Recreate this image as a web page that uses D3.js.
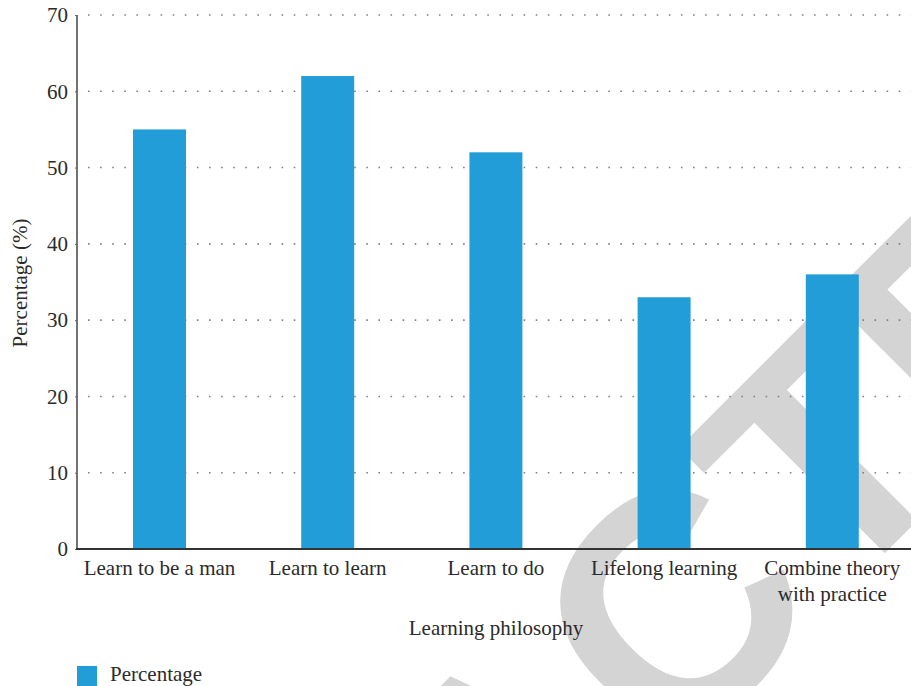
<!DOCTYPE html>
<html><head><meta charset="utf-8">
<script src="https://cdn.jsdelivr.net/npm/d3@7"></script>
<style>html,body{margin:0;padding:0;background:#fff;}svg{display:block;}</style>
</head><body>
<svg id="chart" width="911" height="686"></svg>
<script>
const categories = ["Learn to be a man", "Learn to learn", "Learn to do", "Lifelong learning", "Combine theory with practice"];
const categoryLines = [["Learn to be a man"], ["Learn to learn"], ["Learn to do"], ["Lifelong learning"], ["Combine theory", "with practice"]];
const values = [55, 62, 52, 33, 36];
const yTicks = [0, 10, 20, 30, 40, 50, 60, 70];
const seriesName = "Percentage";
const xTitle = "Learning philosophy";
const yTitle = "Percentage (%)";
const watermark = "RETRACTED";

const svg = d3.select("#chart");
const font = "'Liberation Serif', 'DejaVu Serif', serif";
const fs = 21;
const textColor = "#2b2b2b";
const barColor = "#229dd7";

// watermark (beneath everything)
const wm = svg.append("text")
  .attr("font-family", "'Liberation Sans', Arial, sans-serif")
  .attr("font-weight", "bold")
  .attr("font-size", 320)
  .attr("fill", "#d4d4d4")
  .text(watermark.slice(0, 6));
const pre = wm.node().getComputedTextLength();
wm.text(watermark)
  .attr("x", -pre)
  .attr("y", 0)
  .attr("transform", "translate(832,606) rotate(-45)");

const y = d3.scaleLinear().domain([0, 70]).range([549, 15]);
const x = d3.scaleBand().domain(categories).range([75.4, 916.4]).paddingInner(0.685).paddingOuter(0.3425);

// gridlines
svg.append("g").selectAll("line").data(yTicks.filter(d => d > 0)).join("line")
  .attr("x1", 84).attr("x2", 911)
  .attr("y1", d => y(d)).attr("y2", d => y(d))
  .attr("stroke", "#808080").attr("stroke-width", 1.6)
  .attr("stroke-dasharray", "1.6,10.5")
  .attr("stroke-dashoffset", -4);

// bars
svg.append("g").selectAll("rect").data(values).join("rect")
  .attr("x", (d, i) => x(categories[i]))
  .attr("width", x.bandwidth())
  .attr("y", d => y(d))
  .attr("height", d => y(0) - y(d))
  .attr("fill", barColor);

// y axis
const yAxis = svg.append("g").attr("transform", "translate(77,0)")
  .call(d3.axisLeft(y).tickValues(yTicks).tickSize(2).tickPadding(7));
yAxis.select(".domain").attr("stroke", "#444").attr("stroke-width", 1.5).attr("d", "M0,15V549");
yAxis.selectAll(".tick line").attr("stroke", "#666");
yAxis.selectAll("text").attr("font-family", font).attr("font-size", fs).attr("fill", textColor);

// x axis line
svg.append("line").attr("x1", 76).attr("x2", 911).attr("y1", 549).attr("y2", 549)
  .attr("stroke", "#333").attr("stroke-width", 1.8);

// x labels
const xl = svg.append("g").selectAll("text").data(categories).join("text")
  .attr("x", d => x(d) + x.bandwidth() / 2)
  .attr("y", 575)
  .attr("text-anchor", "middle")
  .attr("font-family", font).attr("font-size", fs).attr("fill", textColor);
xl.each(function(d, i) {
  const t = d3.select(this);
  categoryLines[i].forEach((line, k) => {
    t.append("tspan").attr("x", x(d) + x.bandwidth() / 2).attr("dy", k === 0 ? 0 : 26).text(line);
  });
});

// axis titles
svg.append("text").attr("x", 496).attr("y", 635).attr("text-anchor", "middle")
  .attr("font-family", font).attr("font-size", fs).attr("fill", textColor).text(xTitle);
svg.append("text").attr("transform", "translate(27,283) rotate(-90)").attr("text-anchor", "middle")
  .attr("font-family", font).attr("font-size", fs).attr("fill", textColor).text(yTitle);

// legend
svg.append("rect").attr("x", 77).attr("y", 666).attr("width", 20).attr("height", 20).attr("fill", barColor);
svg.append("text").attr("x", 110).attr("y", 681)
  .attr("font-family", font).attr("font-size", fs).attr("fill", textColor).text(seriesName);
</script>
</body></html>
